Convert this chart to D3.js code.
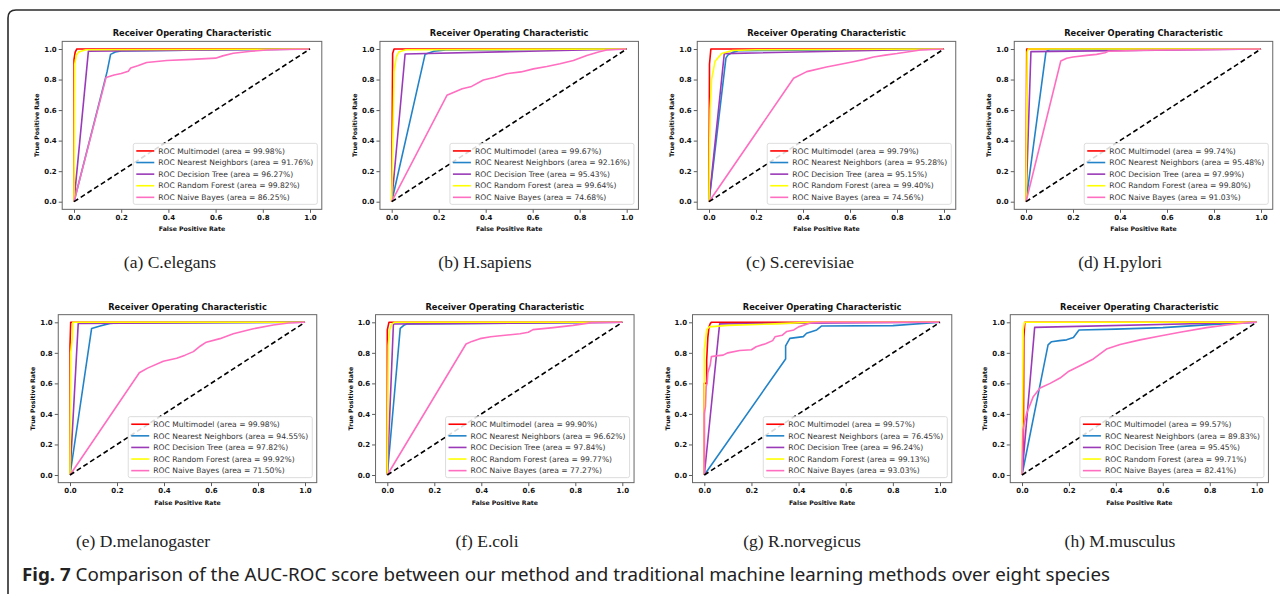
<!DOCTYPE html>
<html>
<head>
<meta charset="utf-8">
<script src="https://cdn.jsdelivr.net/npm/d3@7"></script>
<style>
  html, body { margin: 0; padding: 0; background: #fff; }
  svg { display: block; }
</style>
</head>
<body>
<svg id="fig" width="1280" height="594"></svg>
<script>
// ---- data ---------------------------------------------------------------
const species = ["C.elegans", "H.sapiens", "S.cerevisiae", "H.pylori",
                 "D.melanogaster", "E.coli", "R.norvegicus", "M.musculus"];
const panelLetters = ["a", "b", "c", "d", "e", "f", "g", "h"];
const modelNames = ["Multimodel", "Nearest Neighbors", "Decision Tree", "Random Forest", "Naive Bayes"];

// AUC (%) per species, one array per model
const aucMultimodel   = [99.98, 99.67, 99.79, 99.74, 99.98, 99.90, 99.57, 99.57];
const aucNeighbors    = [91.76, 92.16, 95.28, 95.48, 94.55, 96.62, 76.45, 89.83];
const aucDecisionTree = [96.27, 95.43, 95.15, 97.99, 97.82, 97.84, 96.24, 95.45];
const aucRandomForest = [99.82, 99.64, 99.40, 99.80, 99.92, 99.77, 99.13, 99.71];
const aucNaiveBayes   = [86.25, 74.68, 74.56, 91.03, 71.50, 77.27, 93.03, 82.41];

// ROC curves as [false positive rate, true positive rate] per species
const rocMultimodel = [
  [[0,0],[0,0.93],[0.005,0.98],[0.012,1],[1,1]],
  [[0,0],[0.004,0.97],[0.01,1],[1,1]],
  [[0,0],[0.002,0.9],[0.008,1],[1,1]],
  [[0,0],[0.003,1],[1,1]],
  [[0,0],[0,0.85],[0.003,1],[1,1]],
  [[0,0],[0,0.95],[0.007,1],[1,1]],
  [[0,0],[0,0.6],[0.01,0.6],[0.01,0.75],[0.015,0.9],[0.02,0.97],[0.025,0.99],[0.03,1],[1,1]],
  [[0,0],[0.006,0.2],[0.008,0.9],[0.012,1],[1,1]]
];
const rocNeighbors = [
  [[0,0],[0.14,0.85],[0.155,0.965],[0.175,0.98],[0.2,0.987],[1,1]],
  [[0,0],[0.142,0.965],[0.18,0.985],[0.23,0.993],[1,1]],
  [[0,0],[0.072,0.94],[0.08,0.96],[0.1,0.978],[0.125,0.989],[1,1]],
  [[0,0],[0.085,0.983],[0.1,0.995],[1,1]],
  [[0,0],[0.092,0.96],[0.128,0.976],[0.17,0.993],[0.2,0.996],[1,1]],
  [[0,0],[0.055,0.96],[0.07,0.98],[0.085,0.99],[1,1]],
  [[0,0],[0.345,0.76],[0.345,0.845],[0.363,0.895],[0.42,0.906],[0.434,0.928],[0.477,0.95],[0.498,0.976],[0.8,0.978],[1,1]],
  [[0,0],[0.111,0.852],[0.126,0.873],[0.16,0.88],[0.19,0.885],[0.219,0.9],[0.243,0.95],[0.4,0.955],[0.6,0.965],[0.8,0.985],[1,1]]
];
const rocDecisionTree = [
  [[0,0],[0.061,0.986],[1,1]],
  [[0,0],[0.057,0.967],[1,1]],
  [[0,0],[0.065,0.97],[1,1]],
  [[0,0],[0.021,0.983],[1,1]],
  [[0,0],[0.035,0.993],[1,1]],
  [[0,0],[0.026,0.989],[1,1]],
  [[0,0],[0.065,0.99],[1,1]],
  [[0,0],[0.054,0.967],[1,1]]
];
const rocRandomForest = [
  [[0,0],[0.003,0.9],[0.01,0.96],[0.02,0.98],[0.05,0.995],[1,1]],
  [[0,0],[0.01,0.85],[0.02,0.95],[0.03,0.98],[0.06,0.995],[1,1]],
  [[0,0],[0.005,0.6],[0.011,0.8],[0.026,0.92],[0.054,0.97],[0.1,0.99],[0.2,0.995],[1,1]],
  [[0,0],[0.005,0.98],[0.01,1],[1,1]],
  [[0,0],[0.003,0.8],[0.01,0.9],[0.012,1],[1,1]],
  [[0,0],[0.004,0.85],[0.01,0.95],[0.02,0.99],[0.03,1],[1,1]],
  [[0,0],[0,0.82],[0.01,0.95],[0.02,0.97],[0.1,0.98],[0.3,0.99],[0.45,1],[1,1]],
  [[0,0],[0.003,0.5],[0.005,0.95],[0.01,1],[1,1]]
];
const rocNaiveBayes = [
  [[0,0],[0.136,0.814],[0.17,0.83],[0.2,0.84],[0.23,0.855],[0.24,0.875],[0.27,0.89],[0.308,0.912],[0.393,0.925],[0.5,0.932],[0.6,0.94],[0.63,0.955],[0.675,0.972],[0.75,0.985],[0.816,0.993],[0.9,0.997],[1,1]],
  [[0,0],[0.235,0.697],[0.27,0.72],[0.3,0.74],[0.34,0.755],[0.39,0.797],[0.44,0.815],[0.489,0.838],[0.55,0.85],[0.603,0.87],[0.66,0.885],[0.716,0.903],[0.773,0.925],[0.83,0.958],[0.88,0.98],[0.915,0.993],[1,1]],
  [[0,0],[0.36,0.808],[0.416,0.852],[0.5,0.882],[0.56,0.9],[0.614,0.917],[0.66,0.932],[0.7,0.948],[0.75,0.96],[0.8,0.97],[0.85,0.982],[0.9,0.993],[1,1]],
  [[0,0],[0.148,0.921],[0.173,0.939],[0.2,0.948],[0.258,0.958],[0.3,0.965],[0.336,0.975],[0.35,0.985],[0.5,0.992],[1,1]],
  [[0,0],[0.295,0.67],[0.33,0.7],[0.397,0.745],[0.454,0.764],[0.49,0.785],[0.525,0.808],[0.555,0.845],[0.58,0.87],[0.638,0.893],[0.695,0.925],[0.78,0.958],[0.865,0.982],[0.93,0.995],[1,1]],
  [[0,0],[0.335,0.858],[0.36,0.875],[0.394,0.893],[0.44,0.905],[0.48,0.912],[0.565,0.925],[0.6,0.935],[0.62,0.952],[0.706,0.965],[0.79,0.98],[0.87,0.998],[1,1]],
  [[0,0],[0,0.4],[0.005,0.45],[0.008,0.58],[0.012,0.6],[0.015,0.67],[0.025,0.72],[0.03,0.775],[0.05,0.78],[0.08,0.785],[0.1,0.8],[0.15,0.815],[0.2,0.82],[0.22,0.84],[0.26,0.86],[0.29,0.88],[0.3,0.905],[0.33,0.915],[0.35,0.94],[0.38,0.95],[0.4,0.97],[0.45,0.995],[0.5,1],[1,1]],
  [[0,0],[0.004,0.3],[0.02,0.404],[0.048,0.513],[0.077,0.57],[0.12,0.6],[0.162,0.635],[0.2,0.68],[0.26,0.725],[0.304,0.76],[0.36,0.825],[0.418,0.855],[0.503,0.885],[0.588,0.91],[0.673,0.935],[0.787,0.965],[0.872,0.982],[0.95,0.995],[1,1]]
];

const tickValues = [0, 0.2, 0.4, 0.6, 0.8, 1.0];
const chanceLine = [[0, 0], [1, 1]];
const captionBold = "Fig. 7";
const captionText = " Comparison of the AUC-ROC score between our method and traditional machine learning methods over eight species";

// ---- layout & style -----------------------------------------------------
// pixel position of data 0 and data 1 on each panel's x axis
const panelX = [[74, 310], [391.7, 626.7], [709, 944], [1026, 1261],
                [70, 305], [387.3, 622.3], [704.3, 940], [1022, 1256.7]];
// pixel position of data 1 and data 0 on the y axis, per row
const rowY = [[49, 201.7], [322.3, 475]];
const subCaptionX = [170, 485, 800, 1120, 143, 487, 802, 1120];
const subCaptionY = [268, 547];
const colors = ["#ff0000", "#2383c8", "#9b3ab8", "#ffff00", "#ff6ec0"];
const curveSets = [rocMultimodel, rocNeighbors, rocDecisionTree, rocRandomForest, rocNaiveBayes];
const aucSets = [aucMultimodel, aucNeighbors, aucDecisionTree, aucRandomForest, aucNaiveBayes];
const FONT = "'DejaVu Sans', sans-serif";

const svg = d3.select("#fig");
svg.append("rect").attr("width", 1280).attr("height", 594).attr("fill", "#fff");

// figure frame: top and left edges with a rounded corner
svg.append("path")
  .attr("d", "M8,594 L8,18 Q8,10 16,10 L1280,10")
  .attr("fill", "none").attr("stroke", "#2b2b2b").attr("stroke-width", 1.6);

const line = d3.line();

species.forEach((name, i) => {
  const row = i < 4 ? 0 : 1;
  const [px0, px1] = panelX[i];
  const [py1, py0] = rowY[row];
  const wx = px1 - px0, hy = py0 - py1;
  const x = d3.scaleLinear().domain([-0.05, 1.05]).range([px0 - 0.05 * wx, px1 + 0.05 * wx]);
  const y = d3.scaleLinear().domain([-0.05, 1.05]).range([py0 + 0.05 * hy, py1 - 0.05 * hy]);
  const [L, R] = x.range();
  const [B, T] = y.range();

  const g = svg.append("g");
  const clipId = "clip" + i;
  g.append("clipPath").attr("id", clipId)
    .append("rect").attr("x", L).attr("y", T).attr("width", R - L).attr("height", B - T);

  // title
  g.append("text").attr("x", (L + R) / 2).attr("y", T - 5)
    .attr("text-anchor", "middle").attr("font-family", FONT)
    .attr("font-size", 8.3).attr("font-weight", "bold").attr("fill", "#111")
    .text("Receiver Operating Characteristic");

  // curves
  const plot = g.append("g").attr("clip-path", `url(#${clipId})`);
  curveSets.forEach((set, m) => {
    plot.append("path")
      .attr("d", line(set[i].map(d => [x(d[0]), y(d[1])])))
      .attr("fill", "none").attr("stroke", colors[m]).attr("stroke-width", 1.6)
      .attr("stroke-linejoin", "round");
  });
  plot.append("path")
    .attr("d", line(chanceLine.map(d => [x(d[0]), y(d[1])])))
    .attr("fill", "none").attr("stroke", "#000").attr("stroke-width", 1.6)
    .attr("stroke-dasharray", "5,3");

  // axes
  const xAxis = d3.axisBottom(x).tickValues(tickValues).tickFormat(d3.format(".1f")).tickSize(3.5).tickPadding(2);
  const yAxis = d3.axisLeft(y).tickValues(tickValues).tickFormat(d3.format(".1f")).tickSize(3.5).tickPadding(2);
  [g.append("g").attr("transform", `translate(0,${B})`).call(xAxis),
   g.append("g").attr("transform", `translate(${L},0)`).call(yAxis)].forEach(ax => {
    ax.select(".domain").remove();
    ax.selectAll("line").attr("stroke", "#333").attr("stroke-width", 0.8);
    ax.selectAll("text").attr("font-family", FONT).attr("font-size", 7)
      .attr("font-weight", "bold").attr("fill", "#111");
  });
  g.append("rect").attr("x", L).attr("y", T).attr("width", R - L).attr("height", B - T)
    .attr("fill", "none").attr("stroke", "#666").attr("stroke-width", 1);

  // axis labels
  g.append("text").attr("x", (L + R) / 2).attr("y", B + 22)
    .attr("text-anchor", "middle").attr("font-family", FONT)
    .attr("font-size", 6.2).attr("font-weight", "bold").attr("fill", "#111")
    .text("False Positive Rate");
  g.append("text")
    .attr("transform", `translate(${L - 23},${(T + B) / 2}) rotate(-90)`)
    .attr("text-anchor", "middle").attr("font-family", FONT)
    .attr("font-size", 6.2).attr("font-weight", "bold").attr("fill", "#111")
    .text("True Positive Rate");

  // legend (lower right)
  const lg = g.append("g");
  const box = lg.append("rect");
  const rowH = 11.6;
  const texts = modelNames.map((mn, m) =>
    lg.append("text").attr("font-family", FONT).attr("font-size", 7.6).attr("fill", "#333")
      .text(`ROC ${mn} (area = ${aucSets[m][i].toFixed(2)}%)`));
  const tw = d3.max(texts, t => t.node().getComputedTextLength());
  const lw = 3 + 18 + 4 + tw + 4;
  const lh = 5 * rowH + 3;
  const lx = R - 4.5 - lw, ly = B - 5 - lh;
  box.attr("x", lx).attr("y", ly).attr("width", lw).attr("height", lh).attr("rx", 2)
    .attr("fill", "#fff").attr("fill-opacity", 0.85).attr("stroke", "#d4d4d4").attr("stroke-width", 0.8);
  texts.forEach((t, m) => {
    const cy = ly + 1.5 + rowH * (m + 0.5) + 0.3;
    lg.append("line").attr("x1", lx + 3).attr("x2", lx + 21).attr("y1", cy).attr("y2", cy)
      .attr("stroke", colors[m]).attr("stroke-width", 1.6);
    t.attr("x", lx + 25).attr("y", cy + 2.7);
  });

  // sub caption
  svg.append("text").attr("x", subCaptionX[i]).attr("y", subCaptionY[row])
    .attr("text-anchor", "middle").attr("font-family", "'Liberation Serif', serif")
    .attr("font-size", 17.5).attr("fill", "#222")
    .text(`(${panelLetters[i]}) ${name}`);
});

// figure caption spanning the width of the figure
const cap = svg.append("text").attr("x", 22).attr("y", 581)
  .attr("font-family", "'Noto Sans', sans-serif").attr("font-size", 18.5).attr("fill", "#222")
  .attr("textLength", 1088).attr("lengthAdjust", "spacingAndGlyphs");
cap.append("tspan").attr("font-weight", "bold").text(captionBold);
cap.append("tspan").text(captionText);
</script>
</body>
</html>
